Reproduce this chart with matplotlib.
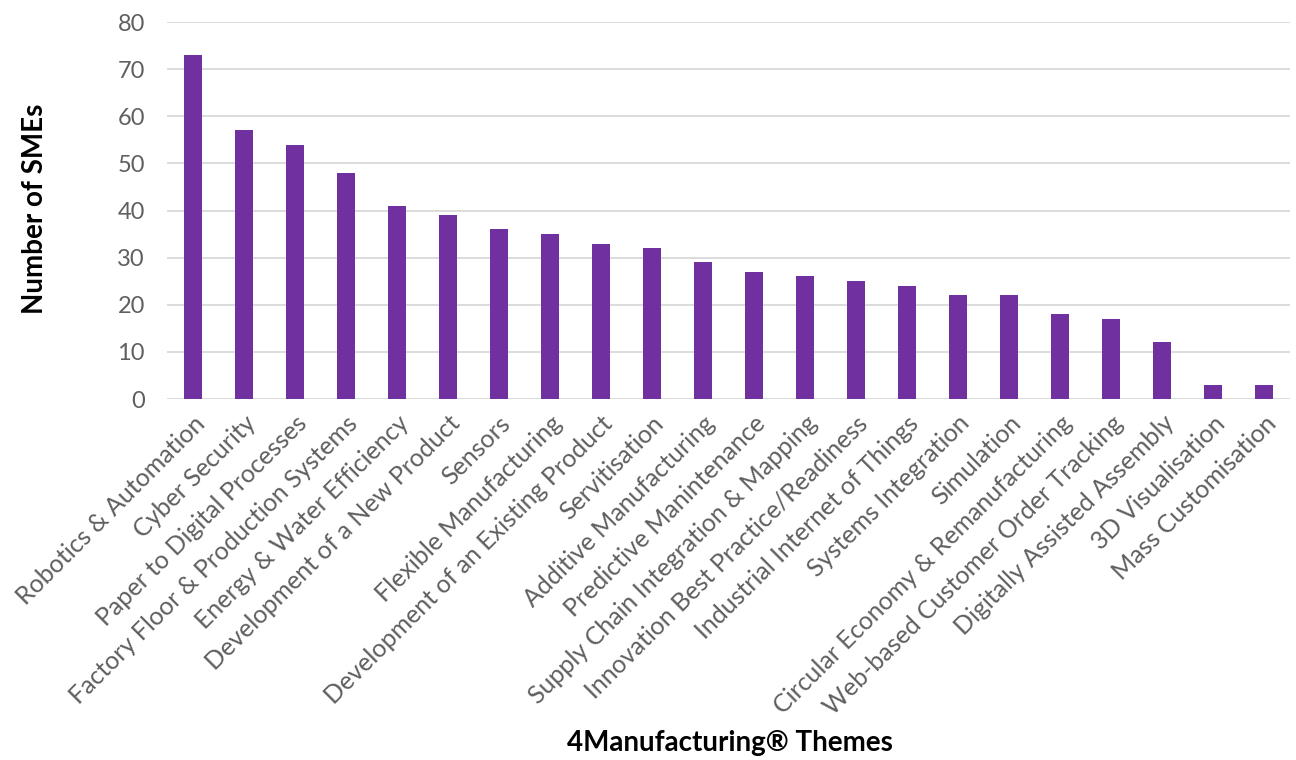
import matplotlib.pyplot as plt
import numpy as np

# --- data ---
themes = [
    'Robotics & Automation', 'Cyber Security', 'Paper to Digital Processes',
    'Factory Floor & Production Systems', 'Energy & Water Efficiency',
    'Development of a New Product', 'Sensors', 'Flexible Manufacturing',
    'Development of an Existing Product', 'Servitisation',
    'Additive Manufacturing', 'Predictive Manintenance',
    'Supply Chain Integration & Mapping', 'Innovation Best Practice/Readiness',
    'Industrial Internet of Things', 'Systems Integration', 'Simulation',
    'Circular Economy & Remanufacturing', 'Web-based Customer Order Tracking',
    'Digitally Assisted Assembly', '3D Visualisation', 'Mass Customisation',
]
smes = [73, 57, 54, 48, 41, 39, 36, 35, 33, 32, 29, 27, 26, 25, 24, 22, 22,
        18, 17, 12, 3, 3]
yticks = [0, 10, 20, 30, 40, 50, 60, 70, 80]

plt.rcParams['font.family'] = ['Lato', 'DejaVu Sans']

fig = plt.figure(figsize=(12.96, 7.6), dpi=100)
ax = fig.add_axes([0.129, 0.475, 0.866, 0.496])

x = np.arange(len(themes))
ax.bar(x, smes, width=0.35, color='#7030A0', zorder=3)

ax.set_xlim(-0.5, len(themes) - 0.5)
ax.set_ylim(0, 80)
ax.set_yticks(yticks)
ax.set_xticks(x)
ax.set_xticklabels(themes, rotation=45, ha='right', rotation_mode='anchor',
                   fontsize=18, color='#5f5f5f')
ax.tick_params(axis='y', labelsize=17, labelcolor='#5f5f5f', length=0, pad=16)
ax.tick_params(axis='x', length=0, pad=9)

ax.grid(axis='y', color='#D9D9D9', linewidth=1.3, zorder=0)
for s in ['top', 'right', 'left', 'bottom']:
    ax.spines[s].set_visible(False)

fig.text(0.027, 0.725, 'Number of SMEs', fontsize=20, fontweight='bold',
         rotation=90, ha='center', va='center')
fig.text(0.563, 0.022, '4Manufacturing® Themes', fontsize=20,
         fontweight='bold', ha='center', va='center')

fig.savefig('out.png', dpi=100)
